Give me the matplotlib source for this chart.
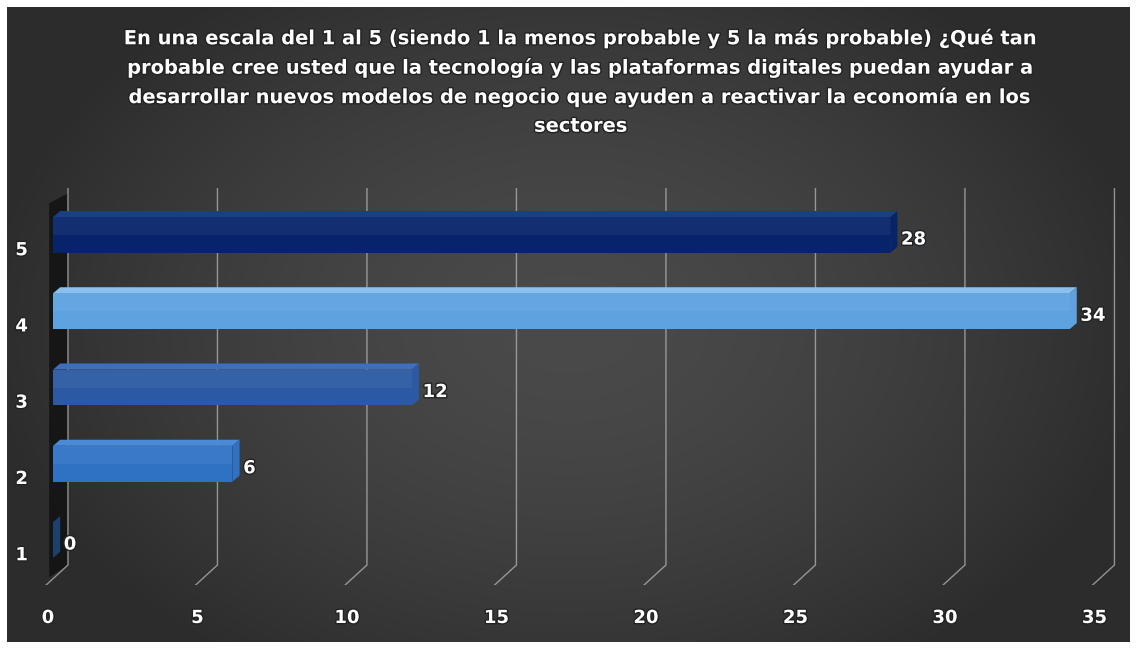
import numpy as np
import matplotlib
matplotlib.use("Agg")
import matplotlib.pyplot as plt
from matplotlib.patches import Polygon, Rectangle
import matplotlib.patheffects as pe

# datos de la encuesta
categorias = [1, 2, 3, 4, 5]
respuestas = [0, 6, 12, 34, 28]
ticks_x = [0, 5, 10, 15, 20, 25, 30, 35]
titulo = ("En una escala del 1 al 5 (siendo 1 la menos probable y 5 la más probable) ¿Qué tan\n"
          "probable cree usted que la tecnología y las plataformas digitales puedan ayudar a\n"
          "desarrollar nuevos modelos de negocio que ayuden a reactivar la economía en los\n"
          "sectores")

# color por categoría: (cara frontal, cara superior / lateral)
colores = {
    1: ("#1d416f", "#2c5a91"),
    2: ("#2f72c4", "#4a8ad6"),
    3: ("#2b59a3", "#3e6fbe"),
    4: ("#5ea2df", "#8cc0ec"),
    5: ("#07246a", "#1a3f8a"),
}

W, H = 1136, 648
fig = plt.figure(figsize=(W / 100, H / 100), dpi=100)
fig.patch.set_facecolor("white")

sombra = [pe.withStroke(linewidth=2, foreground="#222222")]

# fondo con degradado oscuro
bg = fig.add_axes([0, 0, 1, 1])
bg.set_xlim(0, W)
bg.set_ylim(H, 0)
bg.axis("off")
x0, x1, y0, y1 = 7, 1130, 7, 642
xx, yy = np.meshgrid(np.linspace(-1, 1, 400), np.linspace(-1, 1, 240))
r = np.clip(np.sqrt((xx / 1.05) ** 2 + (yy / 1.3) ** 2), 0, 1)
lum = (74 - 30 * r ** 1.6) / 255
img = np.dstack([lum, lum, lum])
bg.imshow(img, extent=(x0, x1, y1, y0), aspect="auto", interpolation="bilinear")

bg.text(581, 82, titulo, ha="center", va="center",
        color="white", fontsize=14, fontweight="bold", family="DejaVu Sans",
        linespacing=1.64, path_effects=sombra)

# ejes de datos: 0 -> px 53, 29.9 px por unidad
ax = fig.add_axes([8.15 / W, (H - 585) / H, (1129.4 - 8.15) / W, (585 - 188) / H])
ax.set_xlim(-1.5, 36.0)
ax.set_ylim(1 - 45 / 76.25, 5 + 47 / 76.25)
ax.axis("off")
ax.patch.set_alpha(0)

y_top = 5 + 47 / 76.25
y_floor_back = 1 - 25 / 76.25
y_floor_front = 1 - 45 / 76.25
prof_x = 0.5      # desplazamiento de la pared del fondo
front_x = -0.23

# pared lateral izquierda
ax.add_patch(Polygon([(front_x + 0.1, y_top - 0.2), (prof_x, y_top - 0.07),
                      (prof_x, y_floor_back), (front_x + 0.1, y_floor_front + 0.1)],
                     closed=True, facecolor="#121212", alpha=0.85, edgecolor="none", zorder=1))

# líneas de división
for t in ticks_x:
    ax.plot([t + prof_x, t + prof_x, t + front_x],
            [y_top, y_floor_back, y_floor_front],
            color="#b5b5b5", lw=1.0, alpha=0.75, zorder=2, solid_joinstyle="miter")
    ax.text(t - 0.17, 0.41 - 33 / 76.25, str(t), ha="center", va="center",
            color="white", fontsize=13, fontweight="bold", path_effects=sombra)

# barras con efecto 3D
alto = 0.47
ddx, ddy = 0.24, 0.08
for c, v in zip(categorias, respuestas):
    frente, arriba = colores[c]
    yb, yt = c - alto / 2, c + alto / 2
    ax.add_patch(Polygon([(0, yt), (v, yt), (v + ddx, yt + ddy), (ddx, yt + ddy)],
                         closed=True, facecolor=arriba, edgecolor="none", zorder=3))
    ax.add_patch(Polygon([(v, yb), (v + ddx, yb + ddy), (v + ddx, yt + ddy), (v, yt)],
                         closed=True, facecolor=frente, edgecolor="none", zorder=3))
    ax.barh(c, v, height=alto, left=0, color=frente, edgecolor="none", zorder=4)
    # brillo suave en la cara frontal
    ax.add_patch(Rectangle((0, c), v, alto / 2, facecolor="white", alpha=0.05,
                           edgecolor="none", zorder=5))
    ax.text(v + ddx + 0.12, c - 0.06, str(v), ha="left", va="center",
            color="white", fontsize=13, fontweight="bold", zorder=6, path_effects=sombra)
    ax.text(-1.05, c - 0.2, str(c), ha="center", va="center",
            color="white", fontsize=13, fontweight="bold", path_effects=sombra)

fig.savefig("out.png", dpi=100, facecolor="white")
